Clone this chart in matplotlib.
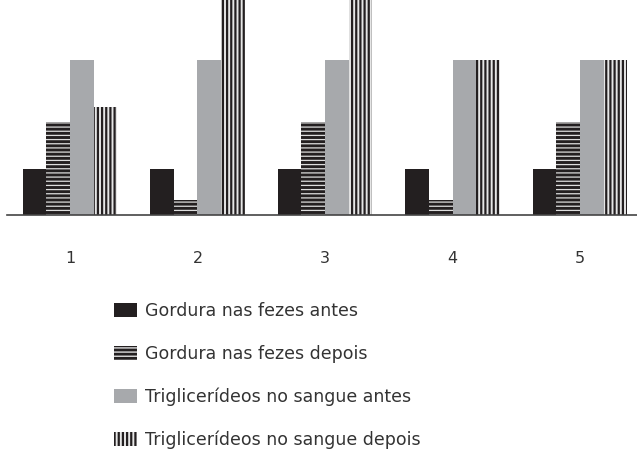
import numpy as np
import matplotlib.pyplot as plt

plt.rcParams['font.family'] = ['DejaVu Sans']

groups = ["1", "2", "3", "4", "5"]
gordura_antes = [3, 3, 3, 3, 3]
gordura_depois = [6, 1, 6, 1, 6]
trig_antes = [10, 10, 10, 10, 10]
trig_depois = [7, 15, 15, 10, 10]

labels = [
    "Gordura nas fezes antes",
    "Gordura nas fezes depois",
    "Triglicerídeos no sangue antes",
    "Triglicerídeos no sangue depois",
]

dark = "#231f20"

fig = plt.figure(figsize=(6.37, 4.5), dpi=100)
ax = fig.add_axes([7 / 637, 235 / 450, 630 / 637, 215 / 450])

x = np.arange(len(groups))
w = 0.185

b1 = ax.bar(x - 1.5 * w, gordura_antes, w, color=dark, linewidth=0)
b2 = ax.bar(x - 0.5 * w, gordura_depois, w, color=dark, edgecolor="#dddddd",
            hatch="----", linewidth=0)
b3 = ax.bar(x + 0.5 * w, trig_antes, w, color="#a7a9ac", linewidth=0)
b4 = ax.bar(x + 1.5 * w, trig_depois, w, color="#e6e6e6", edgecolor=dark,
            hatch="||||", linewidth=0)

# thicker stripes on the vertical-hatched bars
for p in b4:
    if hasattr(p, "set_hatch_linewidth"):
        p.set_hatch_linewidth(1.6)
for p in b2:
    if hasattr(p, "set_hatch_linewidth"):
        p.set_hatch_linewidth(0.9)

ax.set_xlim(-0.494, 4.447)
ax.set_ylim(0, 13.9)
ax.set_xticks(x)
ax.set_xticklabels(groups, fontsize=11.5, color="#333333")
ax.tick_params(axis="x", length=0, pad=26)
ax.set_yticks([])
for s in ["top", "right", "left"]:
    ax.spines[s].set_visible(False)
ax.spines["bottom"].set_color("#444444")
ax.spines["bottom"].set_linewidth(1.2)

leg = fig.legend([b1, b2, b3, b4], labels, loc="upper left",
                 bbox_to_anchor=(114 / 637, 1 - 302 / 450), frameon=False,
                 fontsize=12.5, handlelength=1.32, handleheight=0.86,
                 handletextpad=0.46, labelspacing=1.43, borderpad=0,
                 borderaxespad=0, labelcolor="#333333")
for h in leg.legend_handles:
    if hasattr(h, "set_hatch_linewidth") and h.get_hatch() == "||||":
        h.set_hatch_linewidth(1.6)

fig.savefig("out.png", dpi=100)
